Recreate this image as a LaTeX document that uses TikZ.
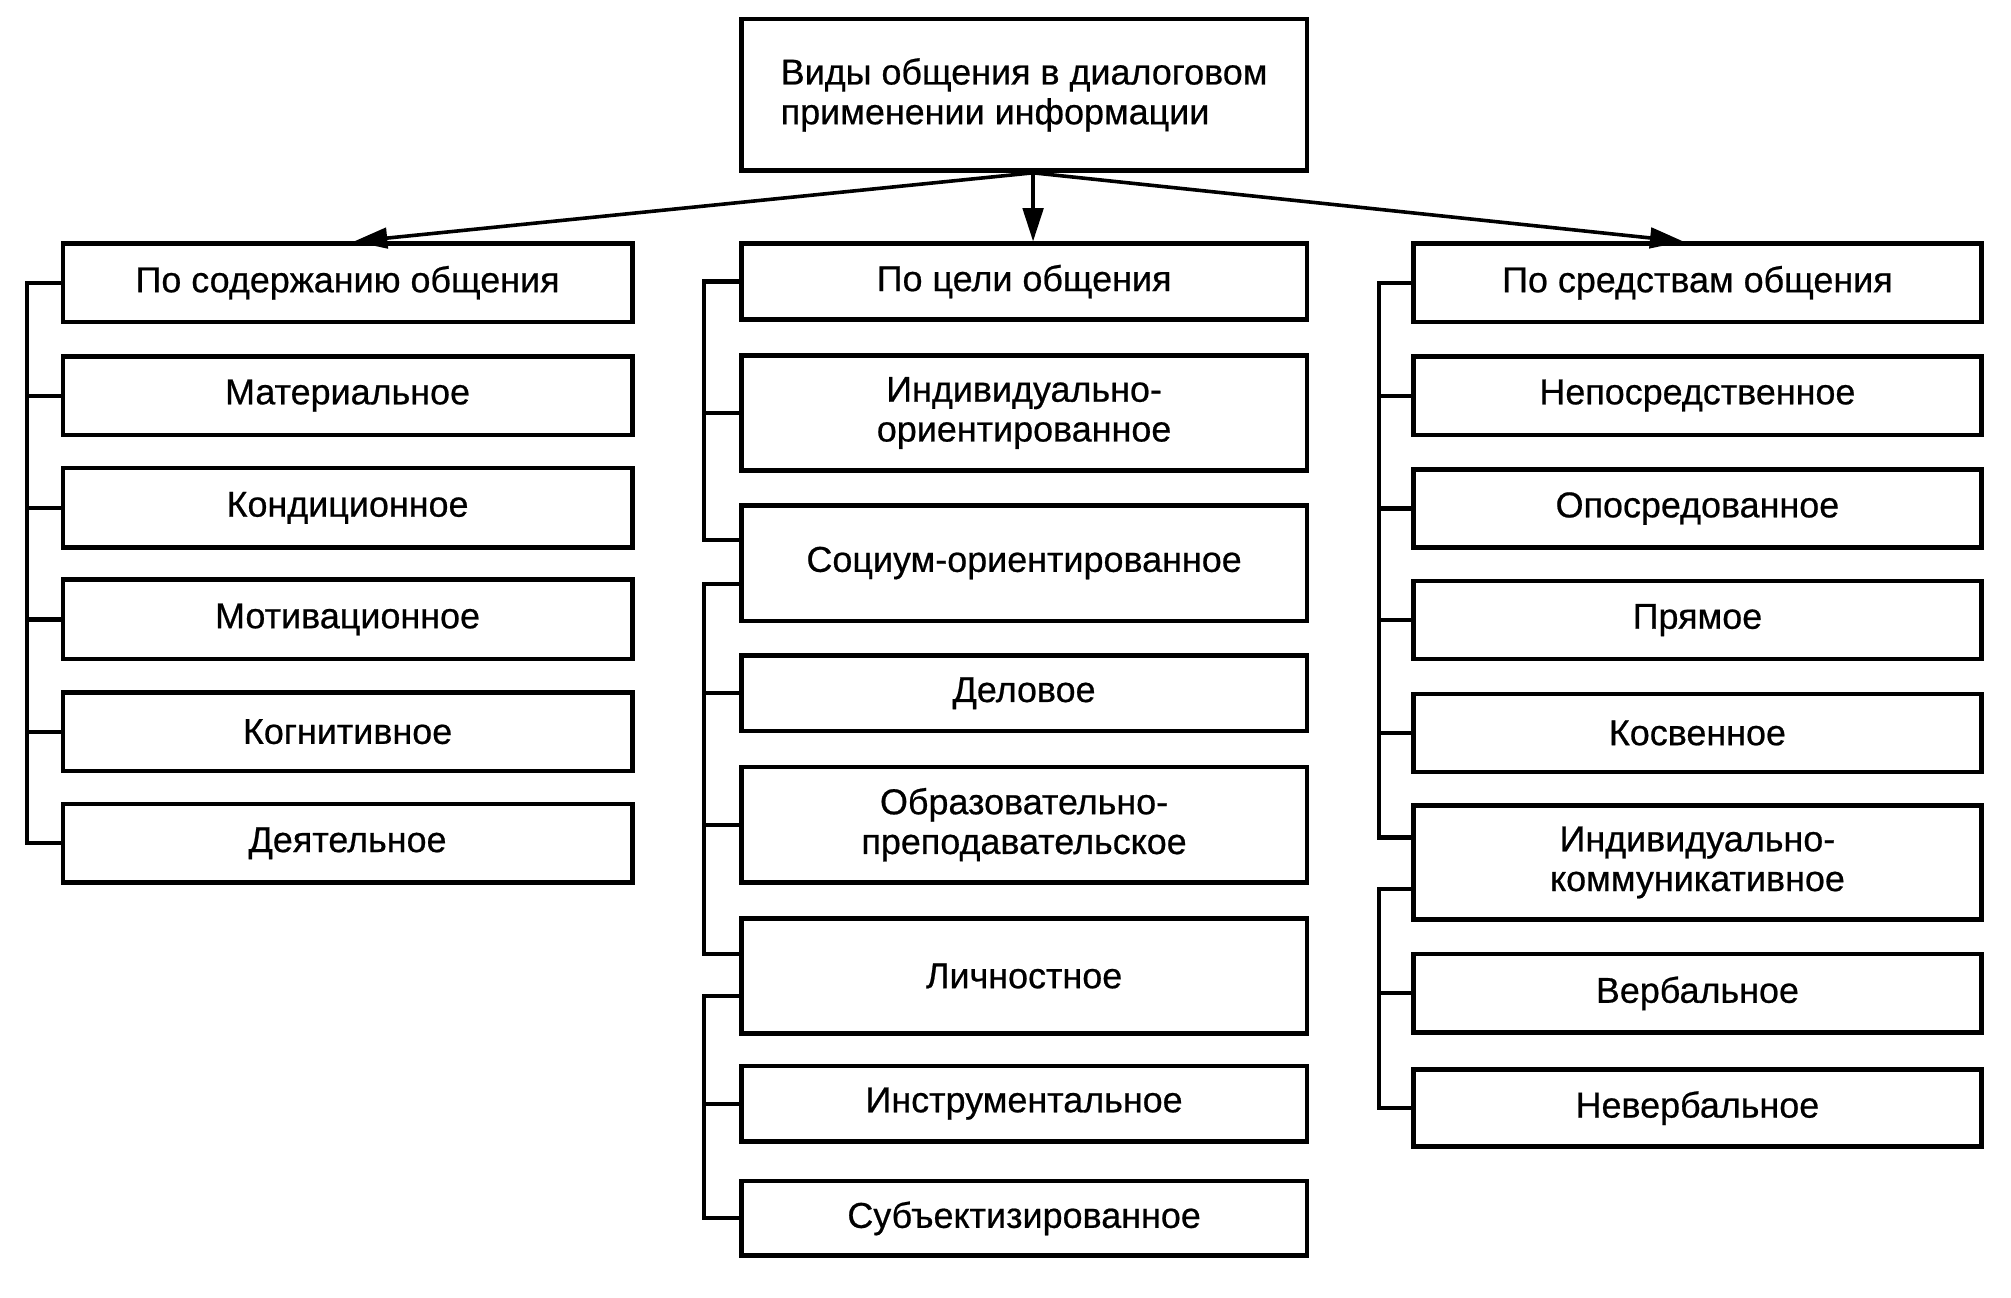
\documentclass[tikz,border=0pt]{standalone}
\usepackage{fontspec}
\setmainfont{Liberation Sans}[FakeBold=0.6]
\usetikzlibrary{arrows.meta,calc}
\newcommand\bx[6]{\node[box, minimum width={(#4-#2)*0.5pt}, minimum height={(#5-#3)*0.5pt}] (#1) at ({(#2+#4)/2},{(#3+#5)/2}) {#6};}
\begin{document}
\begin{tikzpicture}[x=0.5pt,y=-0.5pt,
  box/.style={draw, line width=1.75pt, inner sep=0pt, align=center, font=\fontsize{14}{15.5}\selectfont},
  link/.style={line width=1.6pt},
  arr/.style={line width=1.4pt, -{Triangle[length=13pt,width=8pt]}}]
\useasboundingbox (0,0) rectangle (1568,1012);

% top
\node[box, align=left, minimum width={441*0.5pt}, minimum height={118*0.5pt}] (top) at (798.5,74) {Виды общения в диалоговом\\применении информации};

% left column
\bx{L1}{49}{190}{493}{251}{По содержанию общения}
\bx{L2}{49}{278}{493}{339}{Материальное}
\bx{L3}{49}{365}{493}{427}{Кондиционное}
\bx{L4}{49}{452}{493}{514}{Мотивационное}
\bx{L5}{49}{540}{493}{601}{Когнитивное}
\bx{L6}{49}{627}{493}{688}{Деятельное}

% middle column
\bx{M1}{578}{190}{1019}{249}{По цели общения}
\bx{M2}{578}{277}{1019}{367}{Индивидуально-\\ориентированное}
\bx{M3}{578}{394}{1019}{484}{Социум-ориентированное}
\bx{M4}{578}{511}{1019}{570}{Деловое}
\bx{M5}{578}{598}{1019}{688}{Образовательно-\\преподавательское}
\bx{M6}{578}{716}{1019}{806}{Личностное}
\bx{M7}{578}{831}{1019}{890}{Инструментальное}
\bx{M8}{578}{921}{1019}{979}{Субъектизированное}

% right column
\bx{R1}{1102}{190}{1545}{251}{По средствам общения}
\bx{R2}{1102}{278}{1545}{339}{Непосредственное}
\bx{R3}{1102}{366}{1545}{427}{Опосредованное}
\bx{R4}{1102}{453}{1545}{514}{Прямое}
\bx{R5}{1102}{541}{1545}{602}{Косвенное}
\bx{R6}{1102}{628}{1545}{717}{Индивидуально-\\коммуникативное}
\bx{R7}{1102}{744}{1545}{805}{Вербальное}
\bx{R8}{1102}{834}{1545}{894}{Невербальное}

% buses
\coordinate (lbus) at (21,0);
\coordinate (mbus) at (549,0);
\coordinate (rbus) at (1075,0);

% tie points off-centre
\coordinate (m3a) at ($(M3.west)+(0,-18)$);
\coordinate (m3b) at ($(M3.west)+(0,16.5)$);
\coordinate (m6a) at ($(M6.west)+(0,-17)$);
\coordinate (m6b) at ($(M6.west)+(0,15.5)$);
\coordinate (r6a) at ($(R6.west)+(0,-19.5)$);
\coordinate (r6b) at ($(R6.west)+(0,20.5)$);

% left brackets
\draw[link] (L1.west) -- (L1.west -| lbus) -- (L6.west -| lbus) -- (L6.west);
\foreach \n in {L2,L3,L4,L5} \draw[link] (\n.west) -- (\n.west -| lbus);

% middle brackets
\draw[link] (M1.west) -- (M1.west -| mbus) -- (m3a -| mbus) -- (m3a);
\draw[link] (M2.west) -- (M2.west -| mbus);
\draw[link] (m3b) -- (m3b -| mbus) -- (m6a -| mbus) -- (m6a);
\draw[link] (M4.west) -- (M4.west -| mbus);
\draw[link] (M5.west) -- (M5.west -| mbus);
\draw[link] (m6b) -- (m6b -| mbus) -- (M8.west -| mbus) -- (M8.west);
\draw[link] (M7.west) -- (M7.west -| mbus);

% right brackets
\draw[link] (R1.west) -- (R1.west -| rbus) -- (r6a -| rbus) -- (r6a);
\foreach \n in {R2,R3,R4,R5} \draw[link] (\n.west) -- (\n.west -| rbus);
\draw[link] (r6b) -- (r6b -| rbus) -- (R8.west -| rbus) -- (R8.west);
\draw[link] (R7.west) -- (R7.west -| rbus);

% arrows
\coordinate (src) at ($(top.south)+(7,0)$);
\draw[arr] (src) -- ($(L1.north)+(5,0)$);
\draw[arr] (src) -- ($(M1.north)+(7,0)$);
\draw[arr] (src) -- ($(R1.north)+(-11,0)$);
\end{tikzpicture}
\end{document}
